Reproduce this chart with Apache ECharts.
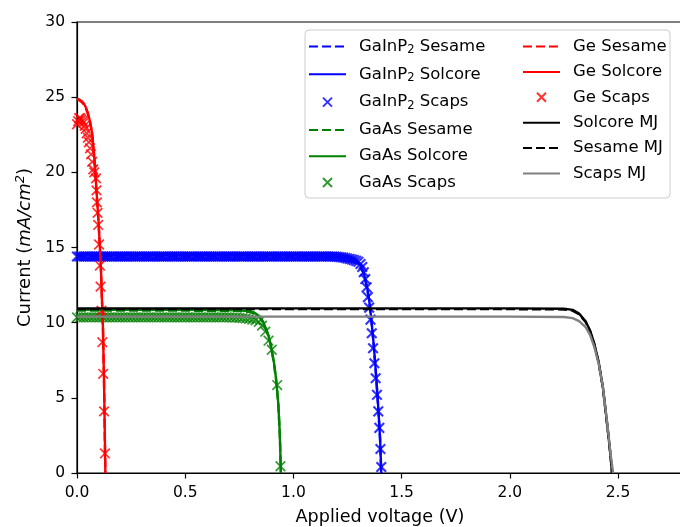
<!DOCTYPE html>
<html>
<head>
<meta charset="utf-8">
<script src="https://cdn.jsdelivr.net/npm/echarts@6/dist/echarts.min.js"></script>
<style>
  html, body { margin: 0; padding: 0; background: #fff; }
  #chart { width: 680px; height: 527px; }
</style>
</head>
<body>
<div id="chart"></div>
<script>
// axis ticks
var xTicks = [0, 0.5, 1.0, 1.5, 2.0, 2.5];
var yTicks = [0, 5, 10, 15, 20, 25, 30];

// GaInP2 top cell
var gainpLineV = [0, 0.5, 1.0, 1.15, 1.2, 1.24, 1.27, 1.29, 1.31, 1.325, 1.34, 1.35, 1.36, 1.37, 1.38, 1.39, 1.40, 1.406];
var gainpSesameJ = [14.45, 14.45, 14.43, 14.4, 14.37, 14.31, 14.2, 14.05, 13.75, 13.25, 12.35, 11.45, 10.15, 8.65, 6.85, 4.75, 2.35, 0];
var gainpSolcoreJ = [14.5, 14.5, 14.48, 14.45, 14.42, 14.36, 14.25, 14.1, 13.8, 13.3, 12.4, 11.5, 10.2, 8.7, 6.9, 4.8, 2.4, 0];
var gainpScapsV = [
  0, 0.01, 0.02, 0.03, 0.04, 0.05, 0.06, 0.07, 0.08, 0.09, 0.1, 0.11, 0.12, 0.13, 0.14, 0.15, 0.16, 0.17, 0.18, 0.19,
  0.2, 0.21, 0.22, 0.23, 0.24, 0.25, 0.26, 0.27, 0.28, 0.29, 0.3, 0.31, 0.32, 0.33, 0.34, 0.35, 0.36, 0.37, 0.38, 0.39,
  0.4, 0.41, 0.42, 0.43, 0.44, 0.45, 0.46, 0.47, 0.48, 0.49, 0.5, 0.51, 0.52, 0.53, 0.54, 0.55, 0.56, 0.57, 0.58, 0.59,
  0.6, 0.61, 0.62, 0.63, 0.64, 0.65, 0.66, 0.67, 0.68, 0.69, 0.7, 0.71, 0.72, 0.73, 0.74, 0.75, 0.76, 0.77, 0.78, 0.79,
  0.8, 0.81, 0.82, 0.83, 0.84, 0.85, 0.86, 0.87, 0.88, 0.89, 0.9, 0.91, 0.92, 0.93, 0.94, 0.95, 0.96, 0.97, 0.98, 0.99,
  1.0, 1.01, 1.02, 1.03, 1.04, 1.05, 1.06, 1.07, 1.08, 1.09, 1.1, 1.11, 1.12, 1.13, 1.14, 1.15, 1.16, 1.17, 1.18, 1.19,
  1.2, 1.21, 1.22, 1.23, 1.24, 1.25, 1.26, 1.27, 1.28, 1.29,
  1.30, 1.31, 1.318, 1.325, 1.332, 1.338, 1.344, 1.35, 1.356, 1.362, 1.368, 1.374, 1.38, 1.386, 1.392, 1.397, 1.402, 1.406];
var gainpScapsJ = [
  14.4, 14.4, 14.4, 14.4, 14.4, 14.4, 14.4, 14.4, 14.4, 14.4, 14.4, 14.4, 14.4, 14.4, 14.4, 14.4, 14.4, 14.4, 14.4, 14.4,
  14.4, 14.4, 14.4, 14.4, 14.4, 14.4, 14.4, 14.4, 14.4, 14.4, 14.4, 14.4, 14.4, 14.4, 14.4, 14.4, 14.4, 14.4, 14.4, 14.4,
  14.4, 14.4, 14.4, 14.4, 14.4, 14.4, 14.4, 14.4, 14.4, 14.4, 14.4, 14.4, 14.4, 14.4, 14.4, 14.4, 14.4, 14.4, 14.4, 14.4,
  14.4, 14.4, 14.4, 14.4, 14.4, 14.4, 14.4, 14.4, 14.4, 14.4, 14.4, 14.4, 14.4, 14.4, 14.4, 14.4, 14.4, 14.4, 14.4, 14.4,
  14.4, 14.4, 14.4, 14.4, 14.4, 14.4, 14.4, 14.4, 14.4, 14.4, 14.4, 14.4, 14.4, 14.4, 14.4, 14.4, 14.4, 14.4, 14.4, 14.4,
  14.4, 14.4, 14.4, 14.4, 14.4, 14.4, 14.4, 14.4, 14.4, 14.4, 14.4, 14.4, 14.4, 14.4, 14.4, 14.4, 14.4, 14.4, 14.4, 14.4,
  14.38, 14.37, 14.35, 14.33, 14.3, 14.27, 14.24, 14.2, 14.16, 14.11,
  14.05, 13.9, 13.7, 13.35, 12.9, 12.35, 11.7, 11.0, 10.2, 9.3, 8.3, 7.3, 6.3, 5.2, 4.1, 3.0, 1.6, 0.4];

// GaAs middle cell
var gaasLineV = [0, 0.5, 0.75, 0.8, 0.82, 0.84, 0.86, 0.88, 0.895, 0.91, 0.92, 0.93, 0.937, 0.942];
var gaasSesameJ = [10.8, 10.8, 10.78, 10.7, 10.6, 10.4, 10.0, 9.3, 8.5, 7.3, 6.2, 4.6, 2.6, 0];
var gaasSolcoreJ = [10.85, 10.85, 10.83, 10.76, 10.66, 10.46, 10.06, 9.35, 8.55, 7.35, 6.25, 4.65, 2.65, 0];
var gaasScapsV = [
  0, 0.015, 0.03, 0.045, 0.06, 0.075, 0.09, 0.105, 0.12, 0.135, 0.15, 0.165, 0.18, 0.195, 0.21, 0.225, 0.24, 0.255, 0.27, 0.285,
  0.3, 0.315, 0.33, 0.345, 0.36, 0.375, 0.39, 0.405, 0.42, 0.435, 0.45, 0.465, 0.48, 0.495, 0.51, 0.525, 0.54, 0.555, 0.57, 0.585,
  0.6, 0.615, 0.63, 0.645, 0.66, 0.675, 0.69, 0.705, 0.72, 0.735, 0.75, 0.765, 0.78, 0.795, 0.81, 0.825,
  0.84, 0.855, 0.87, 0.885, 0.90, 0.925, 0.94];
var gaasScapsJ = [
  10.35, 10.35, 10.35, 10.35, 10.35, 10.35, 10.35, 10.35, 10.35, 10.35, 10.35, 10.35, 10.35, 10.35, 10.35, 10.35, 10.35, 10.35, 10.35, 10.35,
  10.35, 10.35, 10.35, 10.35, 10.35, 10.35, 10.35, 10.35, 10.35, 10.35, 10.35, 10.35, 10.35, 10.35, 10.35, 10.35, 10.35, 10.35, 10.35, 10.35,
  10.35, 10.35, 10.35, 10.35, 10.35, 10.35, 10.35, 10.35, 10.34, 10.33, 10.32, 10.3, 10.28, 10.25, 10.21, 10.16,
  10.05, 9.8, 9.4, 8.8, 8.2, 5.85, 0.45];

// Ge bottom cell
var geLineV = [0, 0.01, 0.02, 0.03, 0.04, 0.05, 0.06, 0.07, 0.08, 0.09, 0.10, 0.11, 0.12, 0.125, 0.129, 0.131];
var geSesameJ = [24.85, 24.8, 24.7, 24.55, 24.3, 23.9, 23.35, 22.55, 20.95, 18.75, 16.55, 13.75, 9.55, 5.95, 1.95, 0];
var geSolcoreJ = [24.9, 24.85, 24.75, 24.6, 24.35, 23.95, 23.4, 22.6, 21.0, 18.8, 16.6, 13.8, 9.6, 6.0, 2.0, 0];
var geScapsV = [0, 0.005, 0.01, 0.015, 0.02, 0.025, 0.03, 0.035, 0.04, 0.045, 0.05, 0.055, 0.06, 0.065, 0.07, 0.075, 0.08,
  0.088, 0.09, 0.092, 0.095, 0.098, 0.102, 0.106, 0.109, 0.113, 0.117, 0.121, 0.125, 0.129];
var geScapsJ = [23.2, 23.4, 23.6, 23.6, 23.5, 23.4, 23.3, 23.1, 22.9, 22.6, 22.3, 22.0, 21.6, 21.2, 20.7, 20.2, 20.0,
  19.6, 18.8, 18.0, 17.3, 16.5, 15.2, 13.8, 12.4, 10.8, 8.7, 6.6, 4.1, 1.3];

// multijunction
var mjV = [0, 1.0, 2.0, 2.25, 2.29, 2.32, 2.35, 2.37, 2.39, 2.41, 2.43, 2.45, 2.465, 2.472];
var mjSolcoreJ = [10.95, 10.95, 10.95, 10.93, 10.85, 10.6, 10.1, 9.5, 8.6, 7.4, 5.7, 3.2, 1.2, 0];
var mjSesameJ = [10.9, 10.9, 10.9, 10.88, 10.8, 10.55, 10.05, 9.45, 8.55, 7.35, 5.65, 3.15, 1.15, 0];
var mjScapsV = [0, 1.0, 2.0, 2.25, 2.29, 2.32, 2.35, 2.37, 2.39, 2.41, 2.43, 2.45, 2.465, 2.477];
var mjScapsJ = [10.4, 10.4, 10.4, 10.38, 10.3, 10.1, 9.7, 9.2, 8.4, 7.3, 5.7, 3.3, 1.3, 0];

function zip(v, j) {
  return v.map(function (x, i) { return [x, j[i]]; });
}

var crossSymbol = 'path://M0,0L10,10M10,0L0,10';

function lineSeries(name, v, j, color, dashed) {
  return {
    name: name,
    type: 'line',
    data: zip(v, j),
    symbol: 'circle',
    showSymbol: false,
    silent: true,
    lineStyle: { color: color, width: 2.4, type: dashed ? [9, 4] : 'solid' },
    // transparent so the legend shows a bare line
    itemStyle: { color: 'rgba(0,0,0,0)', borderWidth: 0 }
  };
}

function scapsSeries(name, v, j, color, width) {
  return {
    name: name,
    type: 'scatter',
    data: zip(v, j),
    symbol: crossSymbol,
    symbolSize: 9.6,
    silent: true,
    itemStyle: { color: 'none', borderColor: color, borderWidth: width }
  };
}

var blue = '#0000ff', green = '#008000', red = '#ff0000';

var series = [
  lineSeries('GaInP₂ Sesame', gainpLineV, gainpSesameJ, blue, true),
  lineSeries('GaInP₂ Solcore', gainpLineV, gainpSolcoreJ, blue, false),
  scapsSeries('GaInP₂ Scaps', gainpScapsV, gainpScapsJ, blue, 2.1),
  lineSeries('GaAs Sesame', gaasLineV, gaasSesameJ, green, true),
  lineSeries('GaAs Solcore', gaasLineV, gaasSolcoreJ, green, false),
  scapsSeries('GaAs Scaps', gaasScapsV, gaasScapsJ, green, 1.7),
  lineSeries('Ge Sesame', geLineV, geSesameJ, red, true),
  lineSeries('Ge Solcore', geLineV, geSolcoreJ, red, false),
  scapsSeries('Ge Scaps', geScapsV, geScapsJ, red, 1.7),
  lineSeries('Solcore MJ', mjV, mjSolcoreJ, '#000000', false),
  lineSeries('Sesame MJ', mjV, mjSesameJ, '#000000', true),
  lineSeries('Scaps MJ', mjScapsV, mjScapsJ, '#808080', false)
];

var legendText = {
  fontFamily: 'DejaVu Sans',
  fontSize: 16.5,
  color: '#000',
  lineHeight: 16,
  padding: [0, 0, 0, 8],
  rich: {
    s: { fontFamily: 'DejaVu Sans', fontSize: 11.5, color: '#000', padding: [8, 0, 0, 0] }
  }
};

var legendBase = {
  orient: 'vertical',
  padding: 0,
  itemWidth: 37,
  itemHeight: 9,
  selectedMode: false,
  textStyle: legendText,
  formatter: function (name) { return name.replace('₂', '{s|2}'); }
};

var myChart = echarts.init(document.getElementById('chart'), null, { renderer: 'canvas' });

var option = {
  animation: false,
  backgroundColor: '#fff',
  textStyle: { fontFamily: 'DejaVu Sans' },
  grid: {
    left: 77, top: 22, width: 606, height: 451,
    containLabel: false,
    outerBoundsMode: 'none',
    show: true, borderColor: '#000', borderWidth: 1.2, backgroundColor: 'transparent'
  },
  graphic: [{
    type: 'rect',
    z: 1,
    shape: { x: 305, y: 30, width: 365, height: 168, r: 4 },
    style: { fill: 'rgba(255,255,255,0.85)', stroke: '#cccccc', lineWidth: 1 }
  }],
  legend: [
    Object.assign({}, legendBase, {
      left: 308, top: 38, itemGap: 9.3,
      data: series.slice(0, 6).map(function (s) { return s.name; })
    }),
    Object.assign({}, legendBase, {
      left: 522, top: 38, itemGap: 8.4,
      data: series.slice(6).map(function (s) { return s.name; })
    })
  ],
  xAxis: {
    type: 'value',
    min: 0, max: 2.8, interval: 0.5,
    name: 'Applied voltage (V)',
    nameLocation: 'middle',
    nameGap: 35,
    nameTextStyle: { fontFamily: 'DejaVu Sans', fontSize: 17.6, color: '#000' },
    axisLine: { lineStyle: { color: '#000', width: 1.2 } },
    axisTick: { length: 5.5, lineStyle: { color: '#000', width: 1.2 } },
    axisLabel: {
      fontFamily: 'DejaVu Sans', fontSize: 15.5, color: '#000', margin: 12,
      showMaxLabel: false,
      formatter: function (v) { return xTicks.indexOf(v) >= 0 ? v.toFixed(1) : ''; }
    },
    splitLine: { show: false }
  },
  yAxis: {
    type: 'value',
    min: 0, max: 30, interval: 5,
    name: 'Current ({i|mA/cm}{sup|2})',
    nameLocation: 'middle',
    nameGap: 40,
    nameRotate: 90,
    nameTextStyle: {
      fontFamily: 'DejaVu Sans', fontSize: 18, color: '#000',
      rich: {
        i: { fontFamily: 'DejaVu Sans', fontSize: 18, fontStyle: 'italic', color: '#000' },
        sup: { fontFamily: 'DejaVu Sans', fontSize: 13, fontStyle: 'italic', color: '#000', padding: [0, 0, 10, 0] }
      }
    },
    axisLine: { show: true, lineStyle: { color: '#000', width: 1.2 } },
    axisTick: { show: true, length: 5.5, lineStyle: { color: '#000', width: 1.2 } },
    axisLabel: {
      fontFamily: 'DejaVu Sans', fontSize: 15.5, color: '#000', margin: 12,
      formatter: function (v) { return yTicks.indexOf(v) >= 0 ? String(v) : ''; }
    },
    splitLine: { show: false }
  },
  series: series
};

myChart.setOption(option);
</script>
</body>
</html>
